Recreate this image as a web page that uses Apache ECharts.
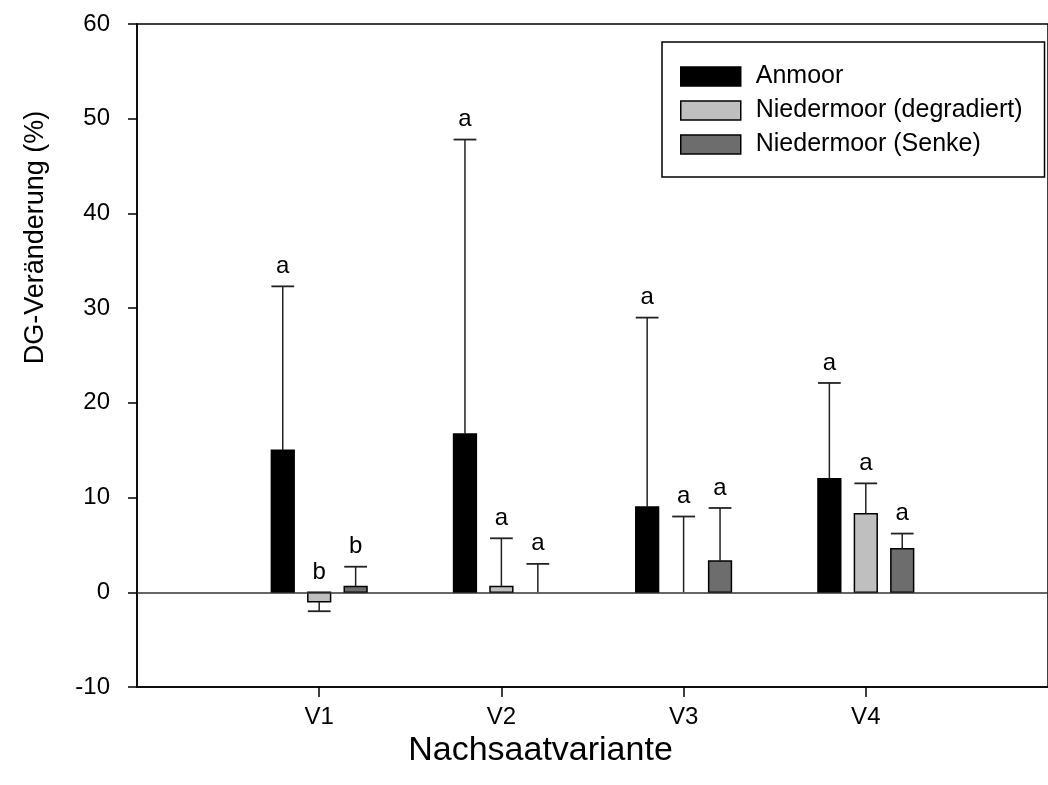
<!DOCTYPE html>
<html>
<head>
<meta charset="utf-8">
<script src="https://cdn.jsdelivr.net/npm/echarts@6/dist/echarts.min.js"></script>
<style>
  html, body { margin: 0; padding: 0; background: #fff; }
  #chart { width: 1048px; height: 785px; }
</style>
</head>
<body>
<div id="chart"></div>
<script>
// Nachsaatvarianten (x positions 1..4 on the value axis)
const categories = ['V1', 'V2', 'V3', 'V4']
const seriesNames = ['Anmoor', 'Niedermoor (degradiert)', 'Niedermoor (Senke)']
const seriesColors = ['#000000', '#bfbfbf', '#6d6d6d']

// mean change (%) and end point of the error bar
const anmoor = [15.0, 16.7, 9.0, 12.0]
const anmoorErr = [32.3, 47.8, 29.0, 22.1]
const degradiert = [-1.0, 0.6, 0, 8.3]
const degradiertErr = [-2.0, 5.7, 8.0, 11.5]
const senke = [0.6, 0, 3.3, 4.6]
const senkeErr = [2.7, 3.0, 8.9, 6.2]

// significance letters
const anmoorLetters = ['a', 'a', 'a', 'a']
const degradiertLetters = ['b', 'a', 'a', 'a']
const senkeLetters = ['b', 'a', 'a', 'a']

const yTicks = [-10, 0, 10, 20, 30, 40, 50, 60]

const FONT = '"Liberation Sans", Arial, sans-serif'
const barW = 0.125
const offsets = [-0.2, 0, 0.2]

const makeData = (vals, errs, letters) =>
  vals.map((v, i) => [i + 1, v, errs[i], letters[i]])

const makeRender = (offset, color) => (params, api) => {
  const x = api.value(0) + offset
  const v = api.value(1)
  const e = api.value(2)
  const letter = api.value(3)
  const p0 = api.coord([x, 0])
  const p1 = api.coord([x, v])
  const pe = api.coord([x, e])
  const w = api.size([barW, 0])[0]
  const children = []
  if (v !== 0) {
    children.push({
      type: 'rect',
      shape: { x: p0[0] - w / 2, y: Math.min(p0[1], p1[1]), width: w, height: Math.abs(p1[1] - p0[1]) },
      style: { fill: color, stroke: '#000', lineWidth: 1.5 }
    })
  }
  children.push({
    type: 'line',
    shape: { x1: p1[0], y1: p1[1], x2: pe[0], y2: pe[1] },
    style: { stroke: '#222', lineWidth: 1.5 }
  })
  children.push({
    type: 'line',
    shape: { x1: pe[0] - w * 0.5, y1: pe[1], x2: pe[0] + w * 0.5, y2: pe[1] },
    style: { stroke: '#222', lineWidth: 1.8 }
  })
  const top = Math.min(p0[1], p1[1], pe[1])
  children.push({
    type: 'text',
    style: {
      text: letter, x: p0[0], y: top - 8,
      align: 'center', verticalAlign: 'bottom',
      fill: '#000', font: '24px ' + FONT
    }
  })
  return { type: 'group', children }
}

const chart = echarts.init(document.getElementById('chart'))

const seriesData = [
  makeData(anmoor, anmoorErr, anmoorLetters),
  makeData(degradiert, degradiertErr, degradiertLetters),
  makeData(senke, senkeErr, senkeLetters)
]

const series = seriesData.map((data, k) => ({
  name: seriesNames[k],
  type: 'custom',
  itemStyle: { color: seriesColors[k] },
  encode: { x: 0, y: [1, 2] },
  renderItem: makeRender(offsets[k], seriesColors[k]),
  data,
  z: 3
}))

// horizontal line at 0
series[0].markLine = {
  silent: true,
  symbol: 'none',
  label: { show: false },
  lineStyle: { color: '#333', width: 1.5, type: 'solid' },
  data: [{ yAxis: 0 }]
}

chart.setOption({
  animation: false,
  backgroundColor: '#fff',
  textStyle: { fontFamily: FONT, color: '#000' },
  grid: {
    left: 137,
    top: 24,
    width: 923,
    height: 663,
    show: true,
    borderColor: '#000',
    borderWidth: 1.5
  },
  legend: {
    orient: 'vertical',
    left: 662,
    top: 42,
    padding: [22, 22, 20, 18],
    itemWidth: 60,
    itemHeight: 19,
    itemGap: 9,
    borderColor: '#000',
    borderWidth: 1.5,
    backgroundColor: '#fff',
    textStyle: { fontSize: 25, color: '#000', fontFamily: FONT, padding: [0, 0, 0, 10] },
    data: seriesNames.map((n, k) => ({
      name: n,
      icon: 'rect',
      itemStyle: { color: seriesColors[k], borderColor: '#000', borderWidth: 1.5 }
    }))
  },
  xAxis: {
    type: 'value',
    min: 0,
    max: 5,
    interval: 1,
    name: 'Nachsaatvariante',
    nameLocation: 'middle',
    nameGap: 40,
    nameTextStyle: { fontSize: 34, color: '#000', fontFamily: FONT, padding: [0, 104, 0, 0] },
    axisLine: { onZero: false, lineStyle: { color: '#000', width: 1.5 } },
    axisTick: { show: true, inside: false, length: 10, customValues: [1, 2, 3, 4], lineStyle: { color: '#000', width: 1.5 } },
    axisLabel: {
      customValues: [1, 2, 3, 4],
      margin: 18,
      fontSize: 24,
      color: '#000',
      formatter: v => categories[v - 1] || ''
    },
    splitLine: { show: false }
  },
  yAxis: {
    type: 'value',
    min: yTicks[0],
    max: yTicks[yTicks.length - 1],
    interval: 10,
    name: 'DG-Veränderung (%)',
    nameLocation: 'middle',
    nameGap: 88,
    nameTextStyle: { fontSize: 27, color: '#000', fontFamily: FONT, padding: [0, 0, 0, 236] },
    axisLine: { onZero: false, lineStyle: { color: '#000', width: 1.5 } },
    axisTick: { show: true, inside: false, length: 9, lineStyle: { color: '#000', width: 1.5 } },
    axisLabel: { margin: 27, fontSize: 24, color: '#000' },
    splitLine: { show: false }
  },
  series
})

window.addEventListener('resize', () => chart.resize())
</script>
</body>
</html>
